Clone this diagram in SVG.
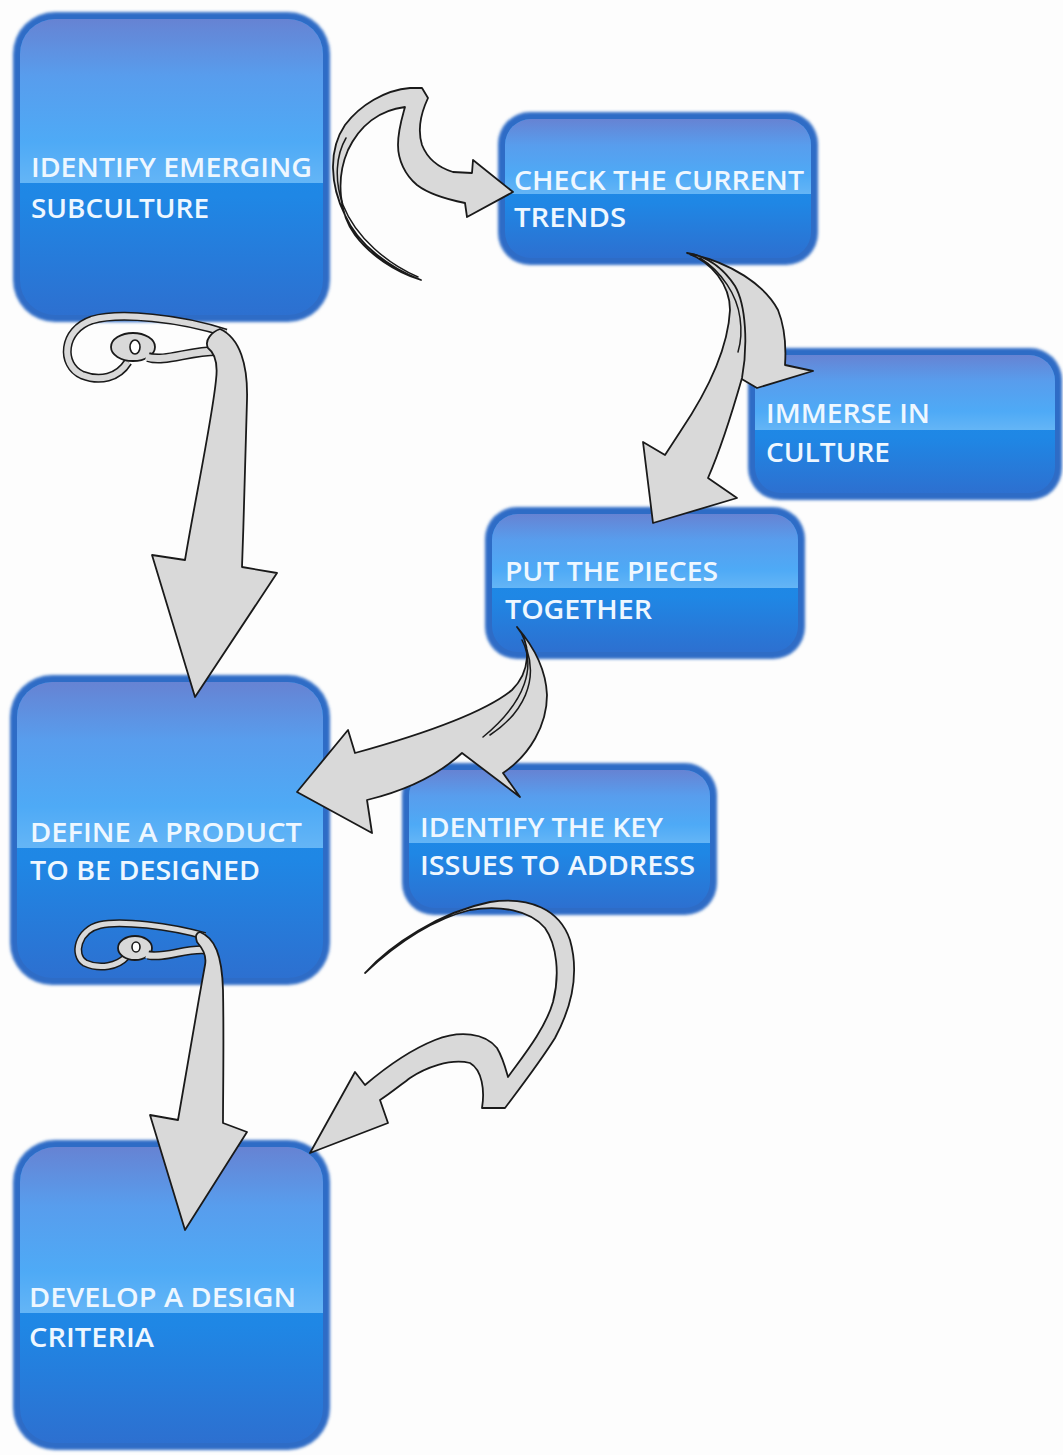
<svg xmlns="http://www.w3.org/2000/svg" width="1063" height="1455" viewBox="0 0 1063 1455">
<defs>
<linearGradient id="gTop" x1="0" y1="0" x2="0" y2="1">
<stop offset="0" stop-color="#6683d3"/>
<stop offset="0.35" stop-color="#589ded"/>
<stop offset="0.75" stop-color="#4eaaf6"/>
<stop offset="1" stop-color="#64b5f6"/>
</linearGradient>
<linearGradient id="gBot" x1="0" y1="0" x2="0" y2="1">
<stop offset="0" stop-color="#1a8fea"/>
<stop offset="0.6" stop-color="#1f87e5"/>
<stop offset="1" stop-color="#2d70d0"/>
</linearGradient>
<filter id="soft" x="-5%" y="-5%" width="110%" height="110%">
<feGaussianBlur stdDeviation="1.6"/>
</filter>
<style>
.frame{fill:#2e6cc6;filter:url(#soft)}
.bot{fill:url(#gBot)}
.top{fill:url(#gTop)}
.lbl{font-family:"Open Sans","Noto Sans","Liberation Sans",sans-serif;font-size:27px;font-weight:600;fill:#eef7ff}
.arr{fill:#d9d9d9;stroke:#1a1a1a;stroke-width:1.8;stroke-linejoin:round}
.ln{fill:none;stroke:#1a1a1a;stroke-width:1.5;stroke-linecap:round}
.rbO{fill:none;stroke:#1a1a1a;stroke-linecap:butt;stroke-linejoin:round}
.rbI{fill:none;stroke:#d9d9d9;stroke-linecap:butt;stroke-linejoin:round}
.hole{fill:#ffffff;stroke:#1a1a1a;stroke-width:1.6}
</style>
</defs>
<rect x="0" y="0" width="1063" height="1455" fill="#fdfdfd"/>

<g id="n1">
<rect class="frame" x="13" y="12" width="317" height="310" rx="42"/>
<rect class="bot" x="20" y="19" width="303" height="296" rx="35"/>
<path class="top" d="M20,183 V54 A35,35 0 0 1 55,19 H288 A35,35 0 0 1 323,54 V183 Z"/>
<text class="lbl" x="31" y="177" textLength="281" lengthAdjust="spacingAndGlyphs">IDENTIFY EMERGING</text>
<text class="lbl" x="31" y="218" textLength="178" lengthAdjust="spacingAndGlyphs">SUBCULTURE</text>
</g>

<g id="n2">
<rect class="frame" x="498" y="112" width="320" height="153" rx="32"/>
<rect class="bot" x="505" y="119" width="306" height="139" rx="26"/>
<path class="top" d="M505,194 V145 A26,26 0 0 1 531,119 H785 A26,26 0 0 1 811,145 V194 Z"/>
<text class="lbl" x="514" y="190" textLength="290" lengthAdjust="spacingAndGlyphs">CHECK THE CURRENT</text>
<text class="lbl" x="514" y="227" textLength="112" lengthAdjust="spacingAndGlyphs">TRENDS</text>
</g>

<g id="n3">
<rect class="frame" x="748" y="348" width="314" height="152" rx="32"/>
<rect class="bot" x="755" y="355" width="300" height="138" rx="26"/>
<path class="top" d="M755,430 V381 A26,26 0 0 1 781,355 H1029 A26,26 0 0 1 1055,381 V430 Z"/>
<text class="lbl" x="766" y="423" textLength="164" lengthAdjust="spacingAndGlyphs">IMMERSE IN</text>
<text class="lbl" x="766" y="462" textLength="124" lengthAdjust="spacingAndGlyphs">CULTURE</text>
</g>

<g id="n4">
<rect class="frame" x="485" y="507" width="320" height="152" rx="32"/>
<rect class="bot" x="492" y="514" width="306" height="138" rx="26"/>
<path class="top" d="M492,588 V540 A26,26 0 0 1 518,514 H772 A26,26 0 0 1 798,540 V588 Z"/>
<text class="lbl" x="505" y="581" textLength="213" lengthAdjust="spacingAndGlyphs">PUT THE PIECES</text>
<text class="lbl" x="505" y="619" textLength="147" lengthAdjust="spacingAndGlyphs">TOGETHER</text>
</g>

<g id="n5">
<rect class="frame" x="10" y="675" width="320" height="310" rx="42"/>
<rect class="bot" x="17" y="682" width="306" height="296" rx="35"/>
<path class="top" d="M17,848 V717 A35,35 0 0 1 52,682 H288 A35,35 0 0 1 323,717 V848 Z"/>
<text class="lbl" x="30" y="842" textLength="272" lengthAdjust="spacingAndGlyphs">DEFINE A PRODUCT</text>
<text class="lbl" x="30" y="880" textLength="230" lengthAdjust="spacingAndGlyphs">TO BE DESIGNED</text>
</g>

<g id="n6">
<rect class="frame" x="402" y="763" width="315" height="152" rx="32"/>
<rect class="bot" x="409" y="770" width="301" height="138" rx="26"/>
<path class="top" d="M409,843 V796 A26,26 0 0 1 435,770 H684 A26,26 0 0 1 710,796 V843 Z"/>
<text class="lbl" x="420" y="837" textLength="243" lengthAdjust="spacingAndGlyphs">IDENTIFY THE KEY</text>
<text class="lbl" x="420" y="875" textLength="275" lengthAdjust="spacingAndGlyphs">ISSUES TO ADDRESS</text>
</g>

<g id="n7">
<rect class="frame" x="13" y="1140" width="317" height="310" rx="42"/>
<rect class="bot" x="20" y="1147" width="303" height="296" rx="35"/>
<path class="top" d="M20,1313 V1182 A35,35 0 0 1 55,1147 H288 A35,35 0 0 1 323,1182 V1313 Z"/>
<text class="lbl" x="29" y="1307" textLength="267" lengthAdjust="spacingAndGlyphs">DEVELOP A DESIGN</text>
<text class="lbl" x="29" y="1347" textLength="125" lengthAdjust="spacingAndGlyphs">CRITERIA</text>
</g>

<g id="connectors">
<!-- A: n1 -> n2 -->
<path class="arr" d="M421,280 C390,268 358,245 345,215 C330,185 328,150 345,125 C360,105 385,90 410,88 L422,88 L428,98 L425,105 C420,118 418,132 422,145 C428,160 440,168 453,172 L472,173 L473,160 L513,192 L467,217 L465,203 C450,200 430,195 417,185 C405,175 398,160 398,145 C398,130 402,118 405,107 C380,110 360,125 348,150 C335,180 340,215 355,235 C370,255 395,272 421,280 Z"/>
<path class="ln" d="M418,277 C388,264 356,238 343,205 C334,180 336,155 346,138"/>

<!-- B2: n2 -> n3 -->
<path class="arr" d="M690,254 C730,262 765,285 778,310 C786,330 786,350 785,365 L813,371 L757,388 L740,378 C746,350 746,310 735,290 C725,272 708,260 690,254 Z"/>
<!-- B1: n2 -> n4 -->
<path class="arr" d="M687,253 C712,262 730,285 730,310 C728,350 705,395 680,432 L665,455 L643,442 L653,523 L737,498 L708,478 C718,455 730,420 742,378 C748,345 746,305 735,286 C722,266 705,256 687,253 Z"/>
<path class="ln" d="M700,258 C722,272 737,295 740,318 C742,332 741,342 738,352"/>

<!-- C: n1 -> n5 (curl) -->
<path class="rbO" stroke-width="9" d="M226,333 C180,318 120,312 92,320 C62,330 60,365 82,375 C100,382 118,378 128,362"/>
<path class="rbI" stroke-width="6" d="M226,333 C180,318 120,312 92,320 C62,330 60,365 82,375 C100,382 118,378 128,362"/>
<ellipse class="arr" cx="133" cy="347" rx="22" ry="14"/>
<ellipse class="hole" cx="135" cy="347" rx="5" ry="7"/>
<path class="rbO" stroke-width="10" d="M148,357 C165,363 190,350 220,351"/>
<path class="rbI" stroke-width="7" d="M146,357 C165,363 190,350 220,351"/>
<path class="arr" d="M220,329 C240,338 248,365 247,400 C246,450 244,510 242,567 L277,573 L195,697 L152,555 L185,560 C195,500 212,420 216,380 C218,364 216,354 208,348 C204,340 212,332 220,329 Z"/>

<!-- D: n5 -> n7 (curl) -->
<path class="rbO" stroke-width="8" d="M205,936 C170,926 120,920 100,925 C78,930 72,955 85,963 C100,970 118,966 126,957"/>
<path class="rbI" stroke-width="5" d="M205,936 C170,926 120,920 100,925 C78,930 72,955 85,963 C100,970 118,966 126,957"/>
<ellipse class="arr" cx="135" cy="948" rx="17" ry="12"/>
<ellipse class="hole" cx="136" cy="947" rx="4" ry="5"/>
<path class="rbO" stroke-width="9" d="M148,955 C165,959 185,948 206,950"/>
<path class="rbI" stroke-width="6" d="M146,955 C165,959 185,948 206,950"/>
<path class="arr" d="M200,932 C215,938 222,955 223,990 C224,1040 223,1090 223,1123 L247,1132 L185,1230 L150,1115 L178,1120 C185,1080 195,1020 205,965 C207,955 202,948 197,942 C195,936 196,933 200,932 Z"/>

<!-- E: n4 -> n5 and n6 -->
<path class="arr" d="M517,627 C532,645 530,672 512,690 C485,712 420,735 355,753 L348,730 L297,792 L372,833 L367,800 C400,792 435,778 462,753 L520,797 L503,773 C530,755 547,725 547,695 C546,670 535,648 517,627 Z"/>
<path class="ln" d="M522,640 C535,665 528,700 483,737"/>
<path class="ln" d="M527,650 C537,680 525,712 490,735"/>

<!-- F: n6 -> n7 -->
<path class="arr" d="M365,973 C390,945 440,912 490,902 C530,896 560,910 570,940 C580,975 570,1010 555,1038 C540,1062 520,1088 505,1108 L482,1108 C485,1090 482,1070 470,1063 C450,1058 425,1068 410,1078 C398,1087 388,1095 380,1100 L388,1123 L310,1153 L355,1072 L365,1085 C385,1068 410,1050 435,1040 C460,1030 485,1033 497,1048 C503,1058 506,1070 508,1077 C520,1060 545,1030 553,1002 C560,975 557,945 545,928 C530,910 500,905 470,910 C430,920 395,945 365,973 Z"/>
</g>
</svg>
